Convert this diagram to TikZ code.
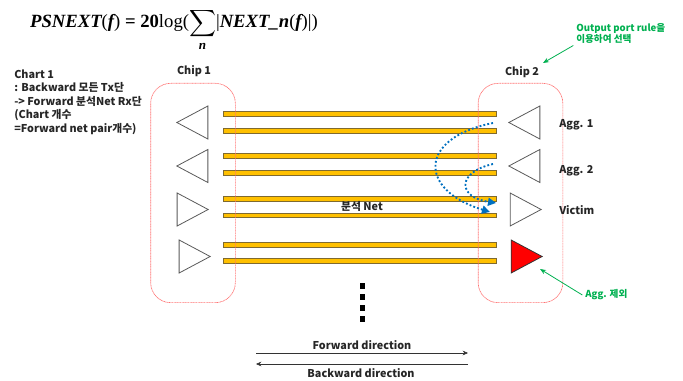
\documentclass[tikz,border=0pt]{standalone}
\usepackage{amsmath,amssymb}
\usepackage{fontspec}
\setmainfont{Noto Sans CJK KR}
\newfontfamily\formulafont{Liberation Serif}
\usepackage{tikz}
\usetikzlibrary{shapes.geometric, arrows.meta, positioning}
\definecolor{wirefill}{HTML}{FFC000}
\definecolor{wireedge}{HTML}{7F6A30}
\definecolor{notegreen}{HTML}{00B050}
\definecolor{pathblue}{HTML}{0070C0}
\newcommand{\boldvar}[1]{{\bfseries\itshape #1}}
\tikzstyle{wire} = [rectangle, minimum width=204.75pt, minimum height=3.6pt, inner sep=0pt, fill=wirefill, draw=wireedge, line width=0.7pt, anchor=west]
\tikzstyle{chip} = [rectangle, minimum width=63.5pt, minimum height=164.5pt, inner sep=0pt, rounded corners=15pt, draw=red!55, dashed, dash pattern=on 0.8pt off 0.4pt, line width=0.5pt]
\tikzstyle{buffer} = [isosceles triangle, isosceles triangle apex angle=56, isosceles triangle stretches, minimum width=24.75pt, minimum height=23.25pt, inner sep=0pt, anchor=apex, draw=black!65, line width=0.6pt]
\tikzstyle{label} = [inner sep=0pt, font=\fontsize{8.1}{10.1}\selectfont\bfseries, text=black!85]
\tikzstyle{note} = [inner sep=0pt, font=\fontsize{7.2}{8.4}\selectfont\bfseries, text=notegreen, align=left]
\tikzstyle{dotbox} = [rectangle, minimum size=4pt, inner sep=0pt, fill=black]
\tikzstyle{arrow} = [thin,-{Stealth[length=4pt,width=3.5pt]}, draw=black!80]
\tikzstyle{notearrow} = [line width=0.6pt,-{Stealth[length=4.5pt,width=3.5pt]}, draw=notegreen]
\tikzstyle{crosstalk} = [line width=1.4pt, dash pattern=on 1.4pt off 1.6pt, draw=pathblue, -{Triangle[length=6pt,width=6pt]}]
\begin{document}
\begin{tikzpicture}[x=0.75pt,y=-0.75pt]
    \useasboundingbox (0,0) rectangle (683,381);

    \node (formula) [inner sep=0pt, anchor=base, font=\fontsize{14}{16}\selectfont\formulafont] at (174,28) {\boldvar{PSNEXT}(\boldvar{f}) \textbf{= 20}log($\displaystyle\sum_{\text{\bfseries\itshape n}}$|\boldvar{NEXT\_n}(\boldvar{f})|)};
    \node (chart) [label, align=left, anchor=north west] at (14,69.5) {Chart 1\\: Backward 모든 Tx단\\-> Forward 분석Net Rx단\\(Chart 개수\\=Forward net pair개수)};

    \node (wirea) [wire] at (223,114) {};
    \node (wireb) [wire] at (223,131) {};
    \node (wirec) [wire] at (223,156) {};
    \node (wired) [wire] at (223,173) {};
    \node (wiree) [wire] at (223,199) {};
    \node (wiref) [wire] at (223,215.5) {};
    \node (wireg) [wire] at (223,245) {};
    \node (wireh) [wire] at (223,261) {};

    \node (chipa) [chip] at (193,193) {};
    \node (chipb) [chip] at (520.5,193) {};
    \node (chipatitle) [label] at (194,71) {Chip 1};
    \node (chipbtitle) [label] at (522,72) {Chip 2};

    \node (txa) [buffer, shape border rotate=180] at (176,122.5) {};
    \node (txb) [buffer, shape border rotate=180] at (176,166) {};
    \node (txc) [buffer] at (209,209.5) {};
    \node (txd) [buffer] at (211,256.5) {};
    \node (rxa) [buffer, shape border rotate=180] at (508,122.5) {};
    \node (rxb) [buffer, shape border rotate=180] at (508,166) {};
    \node (rxc) [buffer] at (542,209.5) {};
    \node (rxd) [buffer, fill=red, draw=black!80] at (543,256.5) {};

    \node (agga) [label, anchor=west] at (559,125) {Agg. 1};
    \node (aggb) [label, anchor=west] at (559,171) {Agg. 2};
    \node (victim) [label, anchor=west] at (559,210) {Victim};
    \node (net) [label] at (362,206) {분석 Net};

    \node (dota) [dotbox] at (362.5,286) {};
    \node (dotb) [dotbox] at (362.5,297) {};
    \node (dotc) [dotbox] at (362.5,308) {};
    \node (dotd) [dotbox] at (362.5,319) {};

    \node (forward) [label] at (362,345) {Forward direction};
    \node (backward) [label] at (361,373) {Backward direction};
    \coordinate (forwarda) at (256,353);
    \coordinate (forwardb) at (468,353);
    \coordinate (backwarda) at (468,364);
    \coordinate (backwardb) at (256,364);
    \draw [arrow] (forwarda) -- (forwardb);
    \draw [arrow] (backwarda) -- (backwardb);

    \node (rulenote) [note, anchor=north west] at (576,23.5) {Output port rule을\\이용하여 선택};
    \node (aggnote) [note, anchor=west] at (585,295) {Agg. 제외};
    \coordinate (ruletip) at (543,63);
    \coordinate (aggtip) at (540,269);
    \draw [notearrow] (rulenote.south west) ++(-2pt,-1pt) -- (ruletip);
    \draw [notearrow] (aggnote.west) ++(-2pt,0pt) -- (aggtip);

    \coordinate (agga-start) at (493,123);
    \coordinate (agga-end) at (490,212);
    \coordinate (aggb-start) at (493,164);
    \coordinate (aggb-end) at (496,203);
    \draw [crosstalk] (agga-start) .. controls (418,138) and (418,190) .. (agga-end);
    \draw [crosstalk] (aggb-start) .. controls (457,172) and (457,197) .. (aggb-end);

\end{tikzpicture}
\end{document}
